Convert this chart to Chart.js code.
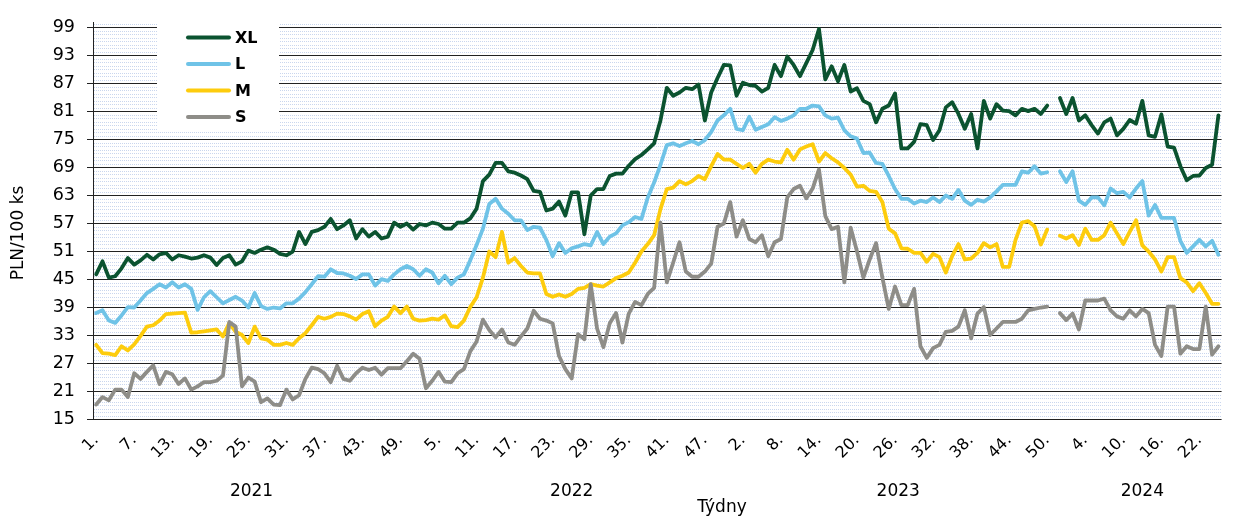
<!DOCTYPE html>
<html>
<head>
<meta charset="utf-8">
<title>Ceny vajec XL / L / M / S</title>
<script src="https://cdn.jsdelivr.net/npm/chart.js@4.4.1/dist/chart.umd.min.js"></script>
<style>
  html, body { margin: 0; padding: 0; background: #fff; overflow: hidden; }
  #wrap { width: 1244px; height: 518px; }
</style>
</head>
<body>
<div id="wrap"><canvas id="chart" width="1244" height="518"></canvas></div>
<script>
const years = ["2021", "2022", "2023", "2024"];
const weeksPerYear = [50, 51, 52, 25];
const yTicks = [15, 21, 27, 33, 39, 45, 51, 57, 63, 69, 75, 81, 87, 93, 99];
const yMin = 15;
const yMax = 100;
const minorStep = 0.75;

const seriesNames = ["XL", "L", "M", "S"];
const seriesColors = ["#0b5330", "#6fc3e7", "#fdcc0d", "#8e8d88"];

const xl = [
  46.0, 48.8, 45.3, 45.6, 47.3, 49.5, 48.1, 49.0, 50.2, 49.2,
  50.3, 50.6, 49.2, 50.1, 49.8, 49.4, 49.6, 50.1, 49.6, 48.0,
  49.5, 50.1, 48.1, 48.8, 51.1, 50.6, 51.3, 51.8, 51.3, 50.4,
  50.1, 50.9, 55.1, 52.5, 55.1, 55.5, 56.2, 57.9, 55.7, 56.5,
  57.6, 53.7, 55.7, 54.1, 55.1, 53.7, 54.1, 57.1, 56.2, 56.9,
  // 2022
  55.6, 56.8, 56.5, 57.1, 56.8, 55.8, 55.8, 57.1, 57.1, 58.0,
  60.1, 66.0, 67.4, 69.9, 69.9, 68.1, 67.8, 67.2, 66.4, 63.9,
  63.7, 59.7, 60.1, 61.6, 58.6, 63.6, 63.6, 54.6, 62.9, 64.3,
  64.3, 67.1, 67.6, 67.6, 69.3, 70.7, 71.6, 72.8, 74.1, 79.0,
  86.0, 84.3, 85.0, 86.0, 85.7, 86.7, 79.0, 85.0, 88.1, 90.9,
  90.8,
  // 2023
  84.3, 87.1, 86.6, 86.4, 85.2, 86.0, 90.9, 88.5, 92.7,
  90.9, 88.5, 91.3, 94.1, 98.6, 87.8, 90.6, 87.4, 90.9, 85.2,
  85.9, 83.2, 82.5, 78.6, 81.5, 82.2, 84.8, 73.0, 73.0, 74.4,
  78.2, 78.0, 74.8, 76.9, 81.8, 82.9, 80.4, 77.2, 80.4, 73.0,
  83.2, 79.4, 82.5, 81.1, 81.0, 80.1, 81.5, 81.0, 81.5, 80.4,
  82.2, null, 83.8,
  // 2024
  80.4, 83.8, 79.0, 80.1, 78.0, 76.2, 78.6, 79.4, 75.8, 77.2,
  79.1, 78.3, 83.2, 75.8, 75.5, 80.3, 73.4, 73.2, 69.2, 66.2,
  67.1, 67.2, 68.8, 69.5, 80.1
];

const l = [
  37.7, 38.3, 36.1, 35.6, 37.2, 39.0, 38.9, 40.4, 42.0, 42.9,
  43.9, 43.2, 44.3, 43.2, 43.9, 42.9, 38.4, 41.1, 42.4, 41.1,
  39.8, 40.5, 41.2, 40.4, 38.9, 42.0, 39.2, 38.6, 38.9, 38.7,
  39.8, 39.8, 40.8, 42.2, 43.9, 45.6, 45.5, 47.1, 46.3, 46.2,
  45.7, 45.0, 46.0, 46.0, 43.6, 45.0, 44.6, 46.0, 47.1, 47.8,
  // 2022
  47.1, 45.7, 47.1, 46.4, 44.1, 45.7, 43.9, 45.3, 46.0, 49.0,
  52.3, 55.8, 61.1, 62.2, 60.1, 59.0, 57.6, 57.6, 55.5, 56.2,
  56.0, 53.4, 49.9, 52.7, 50.6, 51.6, 52.0, 52.5, 52.2, 55.1,
  52.5, 54.1, 54.8, 56.5, 57.2, 58.3, 57.9, 62.5, 65.7, 69.5,
  73.7, 74.1, 73.5, 74.1, 74.6, 73.9, 74.8, 76.5, 79.0, 80.1,
  81.5,
  // 2023
  77.2, 76.9, 79.8, 77.0, 77.6, 78.2, 79.7, 78.9, 79.4,
  80.1, 81.5, 81.5, 82.2, 82.0, 80.1, 79.4, 79.6, 76.9, 75.6,
  75.1, 72.0, 72.1, 69.9, 69.7, 67.1, 64.3, 62.2, 62.2, 61.2,
  61.8, 61.5, 62.5, 61.5, 62.9, 62.2, 64.1, 61.8, 60.9, 62.0,
  61.6, 62.5, 63.8, 65.2, 65.2, 65.2, 68.1, 67.8, 69.2, 67.6,
  67.9, null, 68.1,
  // 2024
  65.8, 68.1, 61.8, 60.9, 62.5, 62.5, 60.8, 64.4, 63.4, 63.7,
  62.5, 64.4, 66.0, 58.6, 60.9, 58.1, 58.1, 58.1, 53.2, 50.6,
  52.0, 53.4, 52.0, 53.2, 50.2
];

const m = [
  30.9, 29.1, 29.0, 28.7, 30.6, 29.7, 31.0, 32.8, 34.8, 35.1,
  36.1, 37.5, 37.6, 37.7, 37.8, 33.5, 33.6, 33.8, 34.0, 34.2,
  32.7, 35.6, 33.7, 33.0, 31.3, 34.8, 32.3, 32.0, 30.9, 30.9,
  31.3, 30.9, 32.3, 33.4, 35.1, 36.9, 36.5, 36.9, 37.6, 37.5,
  37.0, 36.3, 37.5, 38.1, 34.9, 36.1, 36.9, 39.1, 37.7, 39.1,
  // 2022
  36.5, 36.1, 36.2, 36.5, 36.3, 37.2, 34.9, 34.7, 36.1, 39.0,
  41.1, 45.3, 50.9, 49.7, 55.1, 48.5, 49.5, 47.8, 46.4, 46.2,
  46.2, 41.8, 41.2, 41.7, 41.2, 41.8, 42.9, 43.1, 43.9, 43.6,
  43.4, 44.3, 45.2, 45.7, 46.4, 48.5, 50.9, 52.5, 54.4, 60.0,
  64.3, 64.6, 66.0, 65.3, 66.0, 67.1, 66.4, 69.2, 71.8, 70.6,
  70.6,
  // 2023
  69.7, 68.8, 69.7, 67.8, 69.7, 70.6, 70.2, 70.0, 72.7,
  70.6, 72.8, 73.4, 73.9, 70.2, 72.0, 70.9, 70.0, 68.8, 67.4,
  64.8, 65.0, 63.9, 63.7, 61.5, 55.8, 54.8, 51.6, 51.5, 50.6,
  50.6, 48.7, 50.4, 49.7, 46.4, 49.9, 52.5, 49.2, 49.4, 50.6,
  52.7, 51.8, 52.5, 47.6, 47.6, 53.4, 57.1, 57.4, 56.3, 52.4,
  55.6, null, 54.3,
  // 2024
  53.7, 54.4, 52.3, 55.8, 53.4, 53.4, 54.4, 57.1, 54.8, 52.5,
  55.1, 57.6, 52.2, 50.9, 49.2, 46.6, 49.7, 49.7, 45.2, 44.3,
  42.4, 44.1, 42.0, 39.7, 39.7
];

const s = [
  18.1, 19.7, 19.0, 21.3, 21.3, 19.7, 24.8, 23.6, 25.1, 26.5,
  22.5, 25.1, 24.6, 22.5, 23.7, 21.3, 22.0, 22.9, 22.9, 23.2,
  24.3, 35.8, 34.8, 22.0, 23.9, 23.0, 18.6, 19.4, 18.1, 18.0,
  21.3, 19.2, 20.1, 23.6, 26.0, 25.7, 24.8, 22.9, 26.4, 23.6,
  23.2, 24.8, 26.0, 25.5, 26.0, 24.5, 25.9, 25.9, 25.9, 27.4,
  // 2022
  29.0, 27.9, 21.6, 23.2, 25.1, 23.0, 22.9, 24.8, 25.7, 29.5,
  31.6, 36.3, 34.1, 32.5, 34.2, 31.4, 30.9, 32.7, 34.4, 38.2,
  36.5, 36.1, 35.5, 28.5, 25.7, 23.7, 33.2, 32.1, 43.9, 34.4,
  30.4, 35.5, 37.7, 31.4, 37.6, 40.1, 39.4, 41.8, 43.1, 57.1,
  44.3, 48.5, 52.9, 46.6, 45.5, 45.5, 46.6, 48.3, 56.2, 56.9,
  61.5,
  // 2023
  54.1, 57.6, 53.6, 52.9, 54.4, 49.9, 52.9, 53.6, 62.5,
  64.3, 65.0, 62.3, 64.4, 68.5, 58.5, 55.7, 56.2, 44.3, 56.0,
  50.9, 45.3, 49.2, 52.7, 45.3, 38.6, 43.4, 39.4, 39.4, 42.9,
  30.6, 28.1, 30.2, 30.9, 33.7, 33.9, 34.8, 38.3, 32.3, 37.6,
  39.0, 33.0, 34.4, 35.8, 35.8, 35.8, 36.5, 38.3, 38.6, 38.9,
  39.1, null, 37.7,
  // 2024
  36.2, 37.6, 34.2, 40.4, 40.4, 40.4, 40.8, 38.3, 37.0, 36.5,
  38.3, 37.0, 38.6, 37.7, 30.9, 28.5, 39.1, 39.1, 29.0, 30.6,
  30.0, 30.0, 39.1, 28.8, 30.6
];

const seriesData = [xl, l, m, s];

// week labels "1." ... per year, and the index range of each year
const weekLabels = [];
const yearRanges = [];
weeksPerYear.forEach((n, k) => {
  const first = weekLabels.length;
  for (let w = 1; w <= n; w++) weekLabels.push(w + ".");
  yearRanges.push({ label: years[k], first, last: weekLabels.length - 1 });
});

const FONT = "'DejaVu Sans', Verdana, sans-serif";

const extras = {
  id: "extras",
  beforeDatasetsDraw(chart) {
    // dotted minor gridlines
    const { ctx, chartArea } = chart;
    const y = chart.scales.y;
    ctx.save();
    ctx.strokeStyle = "#c9d6ee";
    ctx.lineWidth = 1;
    ctx.setLineDash([1, 1]);
    for (let v = yMin + minorStep; v < yMax + 0.5; v += minorStep) {
      if ((v - yMin) % 6 === 0) continue;
      const py = Math.round(y.getPixelForValue(v)) + 0.5;
      if (py < chartArea.top) continue;
      ctx.beginPath();
      ctx.moveTo(chartArea.left + 1, py);
      ctx.lineTo(chartArea.right, py);
      ctx.stroke();
    }
    ctx.restore();
  },
  afterDatasetsDraw(chart) {
    // legend box inside the plot
    const { ctx } = chart;
    ctx.save();
    ctx.fillStyle = "#fff";
    ctx.fillRect(157, 21, 122, 111);
    const rowY = [37.5, 64, 90.5, 117];
    seriesNames.forEach((name, i) => {
      ctx.strokeStyle = seriesColors[i];
      ctx.lineWidth = 4;
      ctx.lineCap = "round";
      ctx.beginPath();
      ctx.moveTo(188, rowY[i]);
      ctx.lineTo(229, rowY[i]);
      ctx.stroke();
      ctx.fillStyle = "#000";
      ctx.font = "bold 16px " + FONT;
      ctx.textAlign = "left";
      ctx.textBaseline = "middle";
      ctx.fillText(name, 235, rowY[i] + 1);
    });
    ctx.restore();
  },
  afterDraw(chart) {
    const { ctx } = chart;
    const x = chart.scales.x;
    ctx.save();
    ctx.fillStyle = "#000";
    ctx.textAlign = "center";
    ctx.textBaseline = "middle";
    ctx.font = "17px " + FONT;
    yearRanges.forEach((r) => {
      const cx = (x.getPixelForValue(r.first) + x.getPixelForValue(r.last)) / 2;
      ctx.fillText(r.label, cx, 492);
    });
    ctx.fillText("Týdny", 722, 508);
    ctx.translate(19, 233);
    ctx.rotate(-Math.PI / 2);
    ctx.fillText("PLN/100 ks", 0, 0);
    ctx.restore();
  }
};

new Chart(document.getElementById("chart"), {
  type: "line",
  data: {
    labels: weekLabels,
    datasets: seriesData.map((d, i) => ({
      label: seriesNames[i],
      data: d,
      borderColor: seriesColors[i],
      backgroundColor: seriesColors[i],
      borderWidth: 3.8,
      borderJoinStyle: "round",
      borderCapStyle: "round",
      pointRadius: 0,
      tension: 0,
      spanGaps: false,
      order: seriesNames.length - i
    }))
  },
  options: {
    responsive: false,
    animation: false,
    devicePixelRatio: 1,
    layout: { padding: { top: 15, left: 0, right: 0, bottom: 0 } },
    plugins: {
      legend: { display: false },
      tooltip: { enabled: false }
    },
    scales: {
      x: {
        type: "category",
        offset: true,
        grid: { display: false, drawTicks: false, tickLength: 0 },
        border: { display: false },
        ticks: {
          autoSkip: false,
          minRotation: 45,
          maxRotation: 45,
          padding: 12,
          color: "#000",
          font: { family: FONT, size: 16 },
          callback: (val, i) => (i % 6 === 0 ? weekLabels[i] : "")
        },
        afterFit: (scale) => { scale.height = 99; }
      },
      y: {
        min: yMin,
        max: yMax,
        afterBuildTicks: (scale) => {
          scale.ticks = yTicks.map((v) => ({ value: v }));
        },
        grid: { color: "#222", lineWidth: 1, tickLength: 6 },
        border: { color: "#222", width: 1 },
        ticks: {
          padding: 12,
          color: "#000",
          font: { family: FONT, size: 17.5 }
        },
        afterFit: (scale) => { scale.width = 93; }
      }
    }
  },
  plugins: [extras]
});
</script>
</body>
</html>
